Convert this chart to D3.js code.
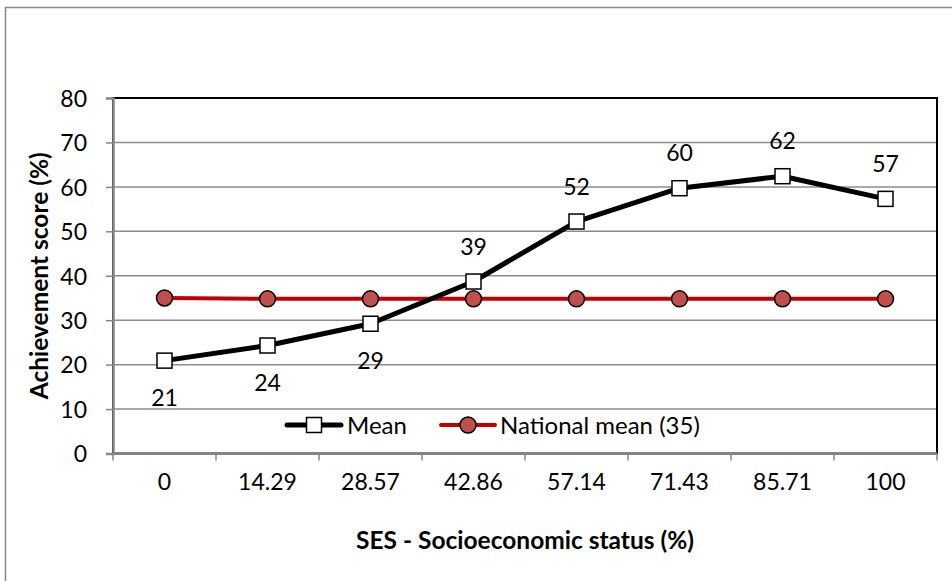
<!DOCTYPE html>
<html>
<head>
<meta charset="utf-8">
<script src="https://cdn.jsdelivr.net/npm/d3@7"></script>
<style>
  html, body { margin: 0; padding: 0; background: #fff; }
  svg { display: block; }
  text { font-family: Lato, "Open Sans", sans-serif; fill: #000; }
</style>
</head>
<body>
<svg id="chart" width="952" height="581"></svg>
<script>
// SES categories (%) along the horizontal axis
const categories = ["0", "14.29", "28.57", "42.86", "57.14", "71.43", "85.71", "100"];
// Mean achievement score (%) per SES group
const meanScores = [20.9, 24.3, 29.2, 38.7, 52.2, 59.7, 62.4, 57.3];
// National mean achievement score (%)
const nationalMean = [35.0, 34.8, 34.8, 34.8, 34.8, 34.8, 34.8, 34.8];
// Value axis ticks
const yTicks = [0, 10, 20, 30, 40, 50, 60, 70, 80];
const seriesNames = ["Mean", "National mean (35)"];

const svg = d3.select("#chart");
const W = 952, H = 581;
const plot = { left: 113, right: 937, top: 98, bottom: 453.5 };
const FS = 23;        // tick and value labels
const FS_LEGEND = 24; // legend entries
const FS_TITLE = 24.5;

// chart area frame
svg.append("rect")
  .attr("x", 5.5).attr("y", 7.5)
  .attr("width", W + 10).attr("height", H + 10)
  .attr("fill", "#fff").attr("stroke", "#8a8a8a").attr("stroke-width", 1.5);

const x = d3.scaleBand().domain(categories).range([plot.left, plot.right]).padding(0);
const cx = c => x(c) + x.bandwidth() / 2;
const y = d3.scaleLinear().domain([0, 80]).range([plot.bottom, plot.top]);

// horizontal gridlines
svg.append("g").selectAll("line")
  .data(yTicks.filter(t => t > 0 && t < 80))
  .join("line")
  .attr("x1", plot.left).attr("x2", plot.right)
  .attr("y1", d => y(d)).attr("y2", d => y(d))
  .attr("stroke", "#8c8c8c").attr("stroke-width", 1.5);

// plot area border (top and right show in black)
svg.append("rect")
  .attr("x", plot.left).attr("y", plot.top)
  .attr("width", plot.right - plot.left).attr("height", plot.bottom - plot.top)
  .attr("fill", "none").attr("stroke", "#000").attr("stroke-width", 2);

// value axis
const yAxis = svg.append("g")
  .attr("transform", `translate(${plot.left},0)`)
  .call(d3.axisLeft(y).tickValues(yTicks).tickSize(7).tickPadding(19).tickFormat(d3.format("d")));
yAxis.select(".domain").attr("stroke", "#868686").attr("stroke-width", 2.5);
yAxis.selectAll(".tick line").attr("stroke", "#868686").attr("stroke-width", 1.5);
yAxis.selectAll(".tick text")
  .attr("font-size", FS).attr("font-family", "Lato, sans-serif")
  .attr("fill", "#000").attr("dy", "0.36em");

// category axis: labels centred in each band, ticks on band edges
const xAxis = svg.append("g")
  .attr("transform", `translate(0,${plot.bottom})`)
  .call(d3.axisBottom(x).tickSize(0).tickPadding(28));
xAxis.select(".domain").remove();
xAxis.selectAll(".tick text")
  .attr("font-size", FS).attr("font-family", "Lato, sans-serif")
  .attr("fill", "#000").attr("dy", "0.36em");

svg.append("line")
  .attr("x1", plot.left).attr("x2", plot.right)
  .attr("y1", plot.bottom).attr("y2", plot.bottom)
  .attr("stroke", "#868686").attr("stroke-width", 2.5);

const edges = categories.map(c => x(c)).concat([plot.right]);
svg.append("g").selectAll("line")
  .data(edges)
  .join("line")
  .attr("x1", d => d).attr("x2", d => d)
  .attr("y1", plot.bottom).attr("y2", plot.bottom + 7)
  .attr("stroke", "#868686").attr("stroke-width", 1.5);

// axis titles
svg.append("text")
  .attr("transform", `translate(48,${(plot.top + plot.bottom) / 2}) rotate(-90)`)
  .attr("text-anchor", "middle")
  .attr("font-size", FS_TITLE).attr("font-weight", "bold")
  .text("Achievement score (%)");

svg.append("text")
  .attr("x", (plot.left + plot.right) / 2).attr("y", 549)
  .attr("text-anchor", "middle")
  .attr("font-size", FS_TITLE).attr("font-weight", "bold")
  .text("SES - Socioeconomic status (%)");

const line = d3.line().x((d, i) => cx(categories[i])).y(d => y(d));

// National mean series
svg.append("path")
  .datum(nationalMean)
  .attr("d", line)
  .attr("fill", "none").attr("stroke", "#C00000").attr("stroke-width", 4)
  .attr("stroke-linejoin", "round").attr("stroke-linecap", "round");

// Mean series
svg.append("path")
  .datum(meanScores)
  .attr("d", line)
  .attr("fill", "none").attr("stroke", "#000").attr("stroke-width", 5)
  .attr("stroke-linejoin", "round").attr("stroke-linecap", "round");

svg.append("g").selectAll("circle")
  .data(nationalMean)
  .join("circle")
  .attr("cx", (d, i) => cx(categories[i])).attr("cy", d => y(d))
  .attr("r", 8)
  .attr("fill", "#C0504D").attr("stroke", "#000").attr("stroke-width", 1.5);

const SQ = 15;
svg.append("g").selectAll("rect")
  .data(meanScores)
  .join("rect")
  .attr("x", (d, i) => cx(categories[i]) - SQ / 2).attr("y", d => y(d) - SQ / 2)
  .attr("width", SQ).attr("height", SQ)
  .attr("fill", "#fff").attr("stroke", "#000").attr("stroke-width", 1.5);

// value labels for the Mean series: below for the first three groups, above elsewhere
const labelBelow = i => i < 3;
svg.append("g").selectAll("text")
  .data(meanScores)
  .join("text")
  .attr("x", (d, i) => cx(categories[i]))
  .attr("y", (d, i) => y(d) + (labelBelow(i) ? 37 : -35))
  .attr("dy", "0.36em")
  .attr("text-anchor", "middle")
  .attr("font-size", FS)
  .text(d => d3.format(".0f")(d));

// legend
const legend = svg.append("g").attr("transform", "translate(0,425)");
legend.append("line").attr("x1", 287).attr("x2", 341).attr("y1", 0).attr("y2", 0)
  .attr("stroke", "#000").attr("stroke-width", 5).attr("stroke-linecap", "round");
legend.append("rect").attr("x", 314 - SQ / 2).attr("y", -SQ / 2).attr("width", SQ).attr("height", SQ)
  .attr("fill", "#fff").attr("stroke", "#000").attr("stroke-width", 1.5);
legend.append("text").attr("x", 347).attr("y", 0).attr("dy", "0.36em")
  .attr("font-size", FS_LEGEND).text(seriesNames[0]);

legend.append("line").attr("x1", 441).attr("x2", 495).attr("y1", 0).attr("y2", 0)
  .attr("stroke", "#C00000").attr("stroke-width", 4).attr("stroke-linecap", "round");
legend.append("circle").attr("cx", 468).attr("cy", 0).attr("r", 8)
  .attr("fill", "#C0504D").attr("stroke", "#000").attr("stroke-width", 1.5);
legend.append("text").attr("x", 500).attr("y", 0).attr("dy", "0.36em")
  .attr("font-size", FS_LEGEND).text(seriesNames[1]);
</script>
</body>
</html>
